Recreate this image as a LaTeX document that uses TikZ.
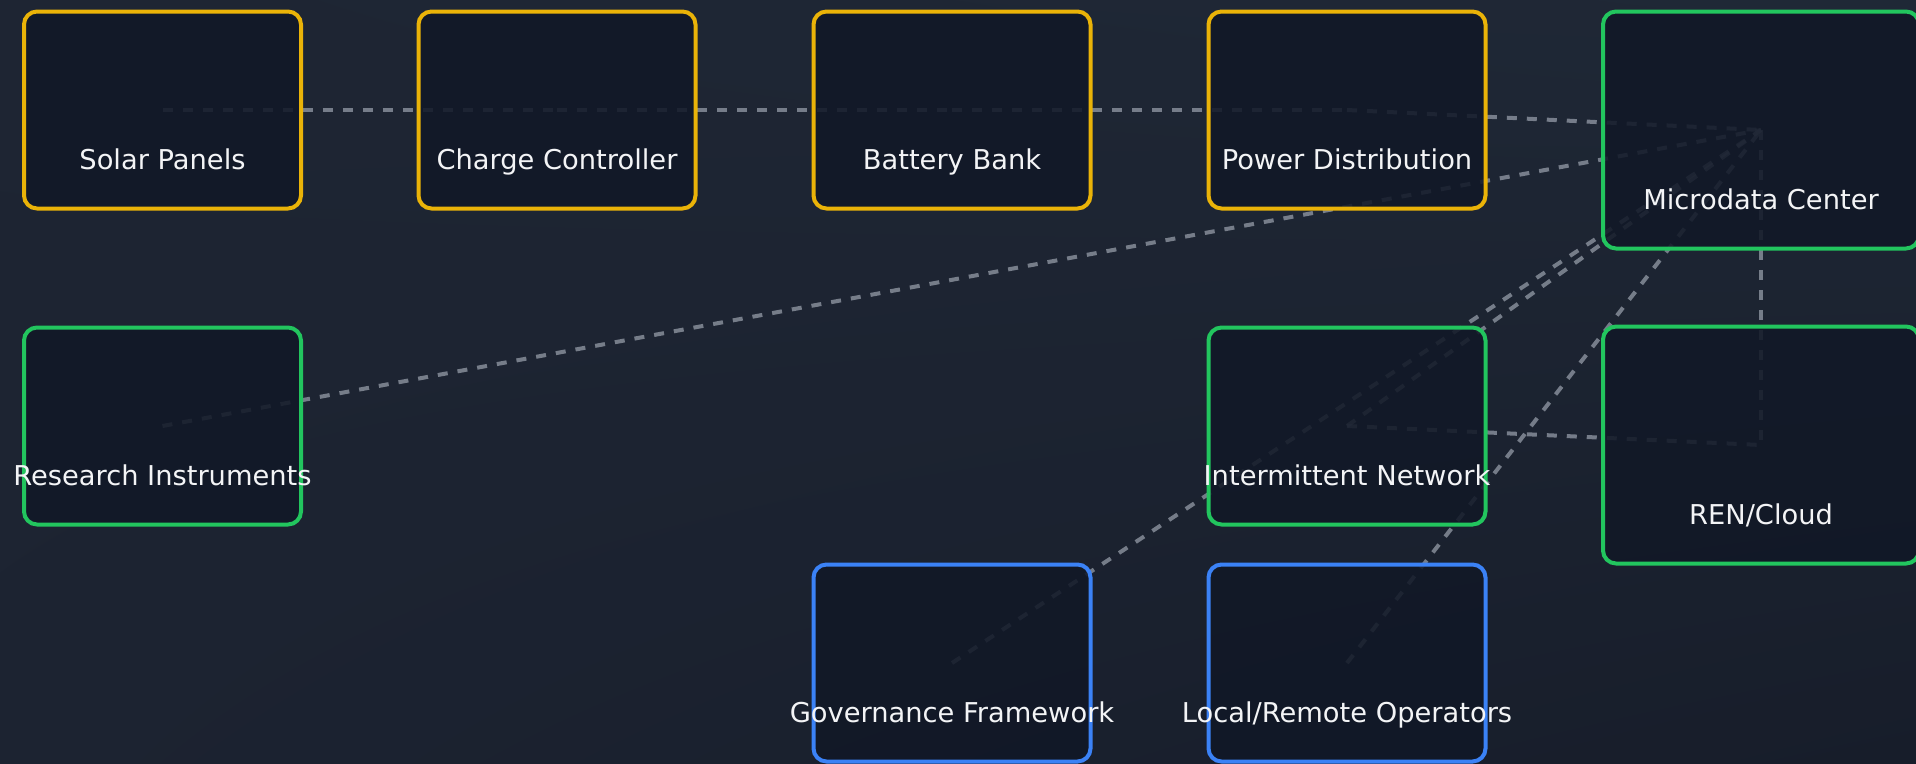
\documentclass[tikz,border=0pt]{standalone}
\usepackage{fontspec}
\setmainfont{DejaVu Sans}
\usetikzlibrary{calc,shadings}
\pgfdeclarelayer{back}
\pgfdeclarelayer{links}
\pgfsetlayers{back,links,main}

\definecolor{bgUL}{HTML}{1E2533}
\definecolor{bgUR}{HTML}{1F2836}
\definecolor{bgLL}{HTML}{1C2331}
\definecolor{bgLR}{HTML}{171D2A}
\definecolor{boxfill}{HTML}{111827}
\definecolor{powerc}{HTML}{EAB308}
\definecolor{netc}{HTML}{22C55E}
\definecolor{peoplec}{HTML}{3B82F6}
\definecolor{linkc}{HTML}{9CA3AF}
\definecolor{labelc}{HTML}{F3F4F6}

\begin{document}
\begin{tikzpicture}[x=1pt,y=-1pt,
  card/.style={draw, line width=4pt, rounded corners=13pt, fill=boxfill,
    fill opacity=0.88, minimum width=277pt, minimum height=197pt, inner sep=0pt},
  widecard/.style={card, minimum width=316pt, minimum height=237pt},
  pw/.style={draw=powerc},
  nw/.style={draw=netc},
  pp/.style={draw=peoplec},
  lbl/.style={text=labelc, font=\fontsize{27.3}{32}\selectfont, inner sep=0pt, anchor=base},
  link/.style={draw=linkc, draw opacity=0.7, line width=4pt,
    dash pattern=on 10pt off 10pt}]

\useasboundingbox (0,0) rectangle (1916,763);
\begin{pgfonlayer}{back}
  \shade[upper left=bgUL, upper right=bgUR, lower left=bgLL, lower right=bgLR]
    (0,0) rectangle (1916,763);
\end{pgfonlayer}

% energy chain
\node[card,pw] (solar)   at (162.5,110) {};
\node[card,pw] (charge)  at (557,110) {};
\node[card,pw] (battery) at (952,110) {};
\node[card,pw] (powerd)  at (1347,110) {};
% compute and network
\node[widecard,nw] (micro)    at (1761,130) {};
\node[card,nw]     (research) at (162.5,426) {};
\node[card,nw]     (netw)     at (1347,426) {};
\node[widecard,nw] (ren)      at (1761,445) {};
% people and rules
\node[card,pp] (gov) at (952,663) {};
\node[card,pp] (ops) at (1347,663) {};

\node[lbl] (solar-l)    at ($(solar.south)+(0,-41)$)    {Solar Panels};
\node[lbl] (charge-l)   at ($(charge.south)+(0,-41)$)   {Charge Controller};
\node[lbl] (battery-l)  at ($(battery.south)+(0,-41)$)  {Battery Bank};
\node[lbl] (powerd-l)   at ($(powerd.south)+(0,-41)$)   {Power Distribution};
\node[lbl] (micro-l)    at ($(micro.south)+(0,-41)$)    {Microdata Center};
\node[lbl] (research-l) at ($(research.south)+(0,-41)$) {Research Instruments};
\node[lbl] (netw-l)     at ($(netw.south)+(0,-41)$)     {Intermittent Network};
\node[lbl] (ren-l)      at ($(ren.south)+(0,-41)$)      {REN/Cloud};
\node[lbl] (gov-l)      at ($(gov.south)+(0,-41)$)      {Governance Framework};
\node[lbl] (ops-l)      at ($(ops.south)+(0,-41)$)      {Local/Remote Operators};

\begin{pgfonlayer}{links}
  \path[link] (solar.center) -- (charge.center);
  \path[link] (charge.center) -- (battery.center);
  \path[link] (battery.center) -- (powerd.center);
  \path[link] (powerd.center) -- (micro.center);
  \path[link] (research.center) -- (micro.center);
  \path[link] (netw.center) -- (micro.center);
  \path[link] (gov.center) -- (micro.center);
  \path[link] (ops.center) -- (micro.center);
  \path[link] (micro.center) -- (ren.center);
  \path[link] (netw.center) -- (ren.center);
\end{pgfonlayer}
\end{tikzpicture}
\end{document}
